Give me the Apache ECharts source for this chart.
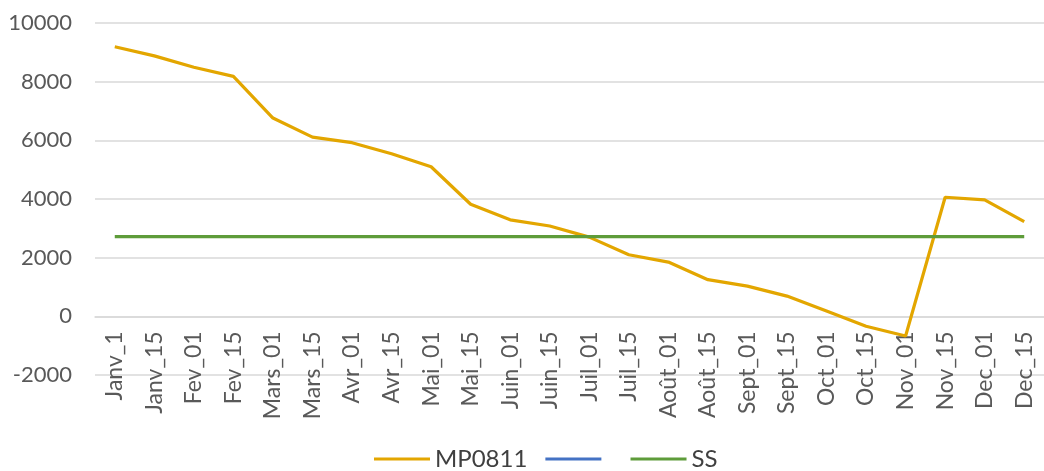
<!DOCTYPE html>
<html>
<head>
<meta charset="utf-8">
<script src="https://cdn.jsdelivr.net/npm/echarts@6/dist/echarts.min.js"></script>
<style>
  html, body { margin: 0; padding: 0; background: #fff; }
  #chart { width: 1044px; height: 471px; }
</style>
</head>
<body>
<div id="chart"></div>
<script>
const categories = [
  'Janv_1', 'Janv_15', 'Fev_01', 'Fev_15', 'Mars_01', 'Mars_15',
  'Avr_01', 'Avr_15', 'Mai_01', 'Mai_15', 'Juin_01', 'Juin_15',
  'Juil_01', 'Juil_15', 'Août_01', 'Août_15', 'Sept_01', 'Sept_15',
  'Oct_01', 'Oct_15', 'Nov_01', 'Nov_15', 'Dec_01', 'Dec_15'
];

const mp0811 = [
  9190, 8880, 8490, 8180, 6760, 6110,
  5920, 5540, 5100, 3820, 3290, 3080,
  2700, 2100, 1850, 1250, 1030, 690,
  180, -340, -670, 4060, 3970, 3230
];

// second series shows in the legend only
const blueVals = [];

const ss = [
  2720, 2720, 2720, 2720, 2720, 2720,
  2720, 2720, 2720, 2720, 2720, 2720,
  2720, 2720, 2720, 2720, 2720, 2720,
  2720, 2720, 2720, 2720, 2720, 2720
];

const seriesNames = ['MP0811', ' ', 'SS'];
const yTicks = { min: -2000, max: 10000, interval: 2000 };

const chart = echarts.init(document.getElementById('chart'));

const lineSeries = (name, data, color) => ({
  name: name,
  type: 'line',
  data: data,
  showSymbol: false,
  symbol: 'none',
  lineStyle: { width: 3.2, color: color },
  itemStyle: { color: color },
  animation: false
});

// grid is 352px tall for 12000 units, so 0 sits 2000 units above the bottom
const gridHeight = 352;
const zeroOffset = -gridHeight * (0 - yTicks.min) / (yTicks.max - yTicks.min);

chart.setOption({
  animation: false,
  textStyle: { fontFamily: 'Lato' },
  grid: {
    left: 95,
    right: -14,
    top: 23,
    height: gridHeight
  },
  legend: {
    top: 442,
    left: 369,
    itemWidth: 56,
    itemHeight: 3,
    itemGap: 18,
    icon: 'rect',
    textStyle: { fontSize: 24, color: '#404040', fontFamily: 'Lato' },
    data: seriesNames
  },
  xAxis: {
    type: 'category',
    data: categories,
    boundaryGap: true,
    offset: zeroOffset,
    axisLine: { show: true, onZero: false, lineStyle: { color: '#D9D9D9', width: 1.5 } },
    axisTick: { show: false },
    axisLabel: {
      rotate: 90,
      interval: 0,
      margin: 15,
      fontSize: 23,
      color: '#595959',
      fontFamily: 'Lato'
    }
  },
  yAxis: {
    type: 'value',
    min: yTicks.min,
    max: yTicks.max,
    interval: yTicks.interval,
    axisLine: { show: false },
    axisTick: { show: false },
    splitLine: { lineStyle: { color: '#D9D9D9', width: 1.5 } },
    axisLabel: {
      margin: 23,
      fontSize: 22,
      color: '#595959',
      fontFamily: 'Lato',
      formatter: v => String(v)
    }
  },
  series: [
    lineSeries(seriesNames[0], mp0811, '#E3A600'),
    lineSeries(seriesNames[1], blueVals, '#4472C4'),
    lineSeries(seriesNames[2], ss, '#5E9C3A')
  ]
});
</script>
</body>
</html>
